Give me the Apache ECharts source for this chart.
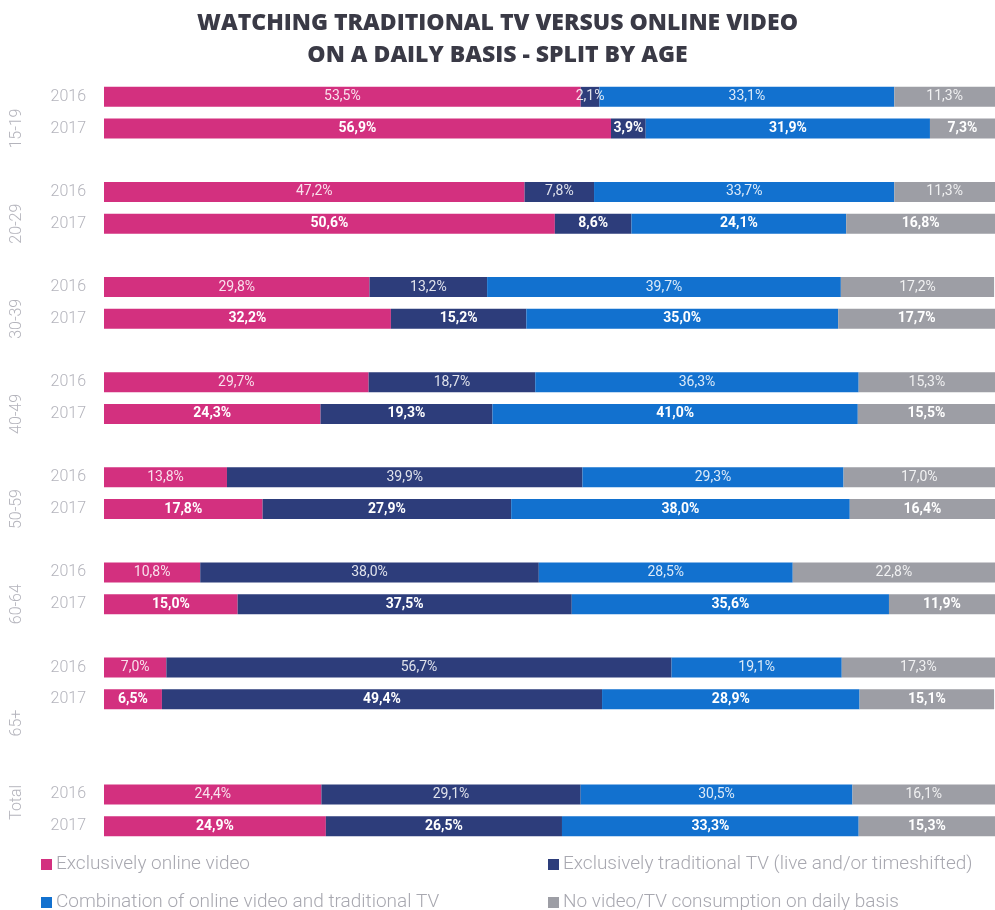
<!DOCTYPE html>
<html>
<head>
<meta charset="utf-8">
<script src="https://cdn.jsdelivr.net/npm/echarts@6/dist/echarts.min.js"></script>
<style>
  html, body { margin: 0; padding: 0; background: #fff; }
  #main { width: 995px; height: 910px; }
</style>
</head>
<body>
<div id="main"></div>
<script>
const ageGroups = ['15-19', '20-29', '30-39', '40-49', '50-59', '60-64', '65+', 'Total'];
const years = ['2016', '2017'];
const seriesNames = [
  'Exclusively online video',
  'Exclusively traditional TV (live and/or timeshifted)',
  'Combination of online video and traditional TV',
  'No video/TV consumption on daily basis'
];
// one value per bar, in order: 15-19 2016, 15-19 2017, 20-29 2016, ...
const onlineOnly  = [53.5, 56.9, 47.2, 50.6, 29.8, 32.2, 29.7, 24.3, 13.8, 17.8, 10.8, 15.0, 7.0, 6.5, 24.4, 24.9];
const tvOnly      = [2.1, 3.9, 7.8, 8.6, 13.2, 15.2, 18.7, 19.3, 39.9, 27.9, 38.0, 37.5, 56.7, 49.4, 29.1, 26.5];
const combination = [33.1, 31.9, 33.7, 24.1, 39.7, 35.0, 36.3, 41.0, 29.3, 38.0, 28.5, 35.6, 19.1, 28.9, 30.5, 33.3];
const noDaily     = [11.3, 7.3, 11.3, 16.8, 17.2, 17.7, 15.3, 15.5, 17.0, 16.4, 22.8, 11.9, 17.3, 15.1, 16.1, 15.3];

const colors = ['#d3307f', '#2d3d7b', '#1271cf', '#9d9ea5'];

// where each age-group name sits on the slot scale (slot i spans i..i+1)
const groupLabelAt = [1.5, 4.5, 7.5, 10.5, 13.5, 16.5, 20.25, 22.75];

// rows of the category axis: bars plus empty gap rows between groups
const slots = [];
ageGroups.forEach((g, gi) => {
  if (g === 'Total') slots.push({ key: 'gapT', row: -1 });
  years.forEach((y, yi) => slots.push({ key: g + ' ' + y, year: y, row: gi * 2 + yi }));
  if (gi < ageGroups.length - 1) slots.push({ key: 'gap' + gi, row: -1 });
});

const fmt = v => v.toFixed(1).replace('.', ',') + '%';

function buildData(values) {
  return slots.map(s => {
    if (s.row < 0) return '-';
    const bold = s.year === '2017';
    return {
      value: values[s.row],
      label: {
        fontWeight: bold ? 'bold' : 'normal',
        color: bold ? '#ffffff' : 'rgba(255,255,255,0.85)'
      }
    };
  });
}

// one legend per item so they sit in a 2x2 block
const legendSpots = [[36, 850], [543, 850], [36, 888], [543, 888]];
const legends = seriesNames.map((name, i) => ({
  left: legendSpots[i][0],
  top: legendSpots[i][1],
  itemWidth: 11,
  itemHeight: 11,
  itemGap: 0,
  icon: 'rect',
  data: [name],
  textStyle: { fontFamily: 'Roboto', fontWeight: 300, fontSize: 19, color: '#a8a8b0', padding: [0, 0, 0, -1] }
}));

const chart = echarts.init(document.getElementById('main'));

const option = {
  animation: false,
  color: colors,
  title: {
    text: 'WATCHING TRADITIONAL TV VERSUS ONLINE VIDEO\nON A DAILY BASIS - SPLIT BY AGE',
    left: 'center',
    top: 2,
    textStyle: {
      fontFamily: 'Open Sans',
      fontWeight: 800,
      fontSize: 23,
      lineHeight: 32,
      color: '#3a3a46'
    }
  },
  legend: legends,
  grid: {
    left: 104,
    top: 81,
    width: 898,
    height: 761
  },
  xAxis: {
    type: 'value',
    min: 0,
    max: 100,
    show: false
  },
  yAxis: [
    {
      type: 'category',
      inverse: true,
      data: slots.map(s => s.key),
      axisLine: { show: false },
      axisTick: { show: false },
      axisLabel: {
        interval: 0,
        margin: 18,
        fontFamily: 'Roboto',
        fontWeight: 300,
        fontSize: 16,
        color: '#b4b4bc',
        formatter: v => (v.startsWith('gap') ? '' : v.split(' ')[1])
      }
    },
    {
      type: 'value',
      position: 'left',
      inverse: true,
      min: 0,
      max: 24,
      interval: 0.25,
      axisLine: { show: false },
      axisTick: { show: false },
      splitLine: { show: false },
      axisLabel: {
        rotate: 90,
        margin: 79,
        fontFamily: 'Roboto',
        fontWeight: 300,
        fontSize: 16,
        color: '#b4b4bc',
        formatter: v => {
          const i = groupLabelAt.findIndex(p => Math.abs(p - v) < 0.01);
          return i >= 0 ? ageGroups[i] : '';
        }
      }
    }
  ],
  series: [onlineOnly, tvOnly, combination, noDaily].map((vals, i) => ({
    name: seriesNames[i],
    type: 'bar',
    stack: 'total',
    yAxisIndex: 0,
    barWidth: 20,
    emphasis: { disabled: true },
    label: {
      show: true,
      position: 'inside',
      fontFamily: 'Roboto',
      fontSize: 14,
      formatter: p => fmt(p.value)
    },
    data: buildData(vals)
  }))
};

chart.setOption(option);
</script>
</body>
</html>
